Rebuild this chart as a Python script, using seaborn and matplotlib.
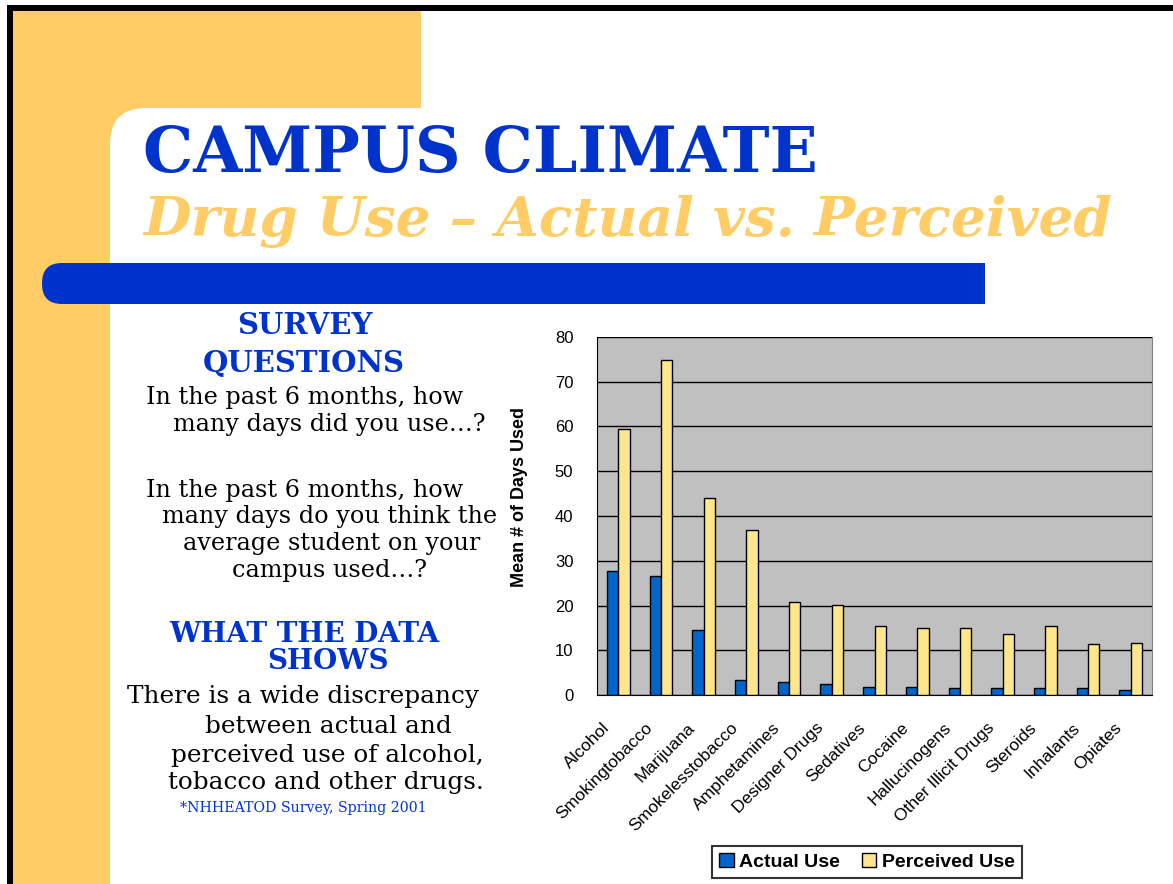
import pandas as pd
import matplotlib
matplotlib.use("Agg")
import matplotlib.pyplot as plt
import matplotlib.transforms as mtransforms
from matplotlib.patches import Rectangle, FancyBboxPatch, Patch
import seaborn as sns

# data
drugs = ["Alcohol", "Smokingtobacco", "Marijuana", "Smokelesstobacco",
         "Amphetamines", "Designer Drugs", "Sedatives", "Cocaine",
         "Hallucinogens", "Other Illicit Drugs", "Steroids", "Inhalants", "Opiates"]
actual_use = [27.8, 26.7, 14.5, 3.3, 3.0, 2.5, 1.8, 1.8, 1.5, 1.5, 1.5, 1.5, 1.1]
perceived_use = [59.5, 74.9, 44.1, 36.8, 20.7, 20.1, 15.4, 15.0, 15.0, 13.6, 15.4, 11.3, 11.7]
series_names = ["Actual Use", "Perceived Use"]
y_ticks = [0, 10, 20, 30, 40, 50, 60, 70, 80]

df = pd.DataFrame({
    "drug": drugs * 2,
    "days": actual_use + perceived_use,
    "type": [series_names[0]] * len(drugs) + [series_names[1]] * len(drugs),
})

sns.set_style("white")
plt.rcParams["font.family"] = ["Liberation Sans", "DejaVu Sans"]
plt.rcParams["text.color"] = "black"
plt.rcParams["axes.labelcolor"] = "black"
plt.rcParams["xtick.color"] = "black"
plt.rcParams["ytick.color"] = "black"

W, H = 1173, 884
fig = plt.figure(figsize=(W / 100, H / 100), dpi=100)
fig.patch.set_facecolor("white")
inch = fig.dpi_scale_trans

BLUE_DARK = "#0033CC"
ORANGE = "#FFCC66"
BAR_BLUE = "#0066CC"
BAR_YELLOW = "#FFE68C"


def box(x0, y0, x1, y1, color, rounding=None):
    # pixel coords, origin top-left
    if rounding is None:
        p = Rectangle((x0 / 100, (H - y1) / 100), (x1 - x0) / 100, (y1 - y0) / 100,
                      transform=inch, facecolor=color, edgecolor="none", zorder=-10)
    else:
        p = FancyBboxPatch((x0 / 100, (H - y1) / 100), (x1 - x0) / 100, (y1 - y0) / 100,
                           boxstyle=f"round,pad=0,rounding_size={rounding / 100}",
                           transform=inch, facecolor=color, edgecolor="none", zorder=-10)
    fig.patches.append(p)


# slide background
box(7, 5, W + 5, H + 5, "black")
box(13, 11, W + 5, H + 5, "white")
box(13, 11, 421, 108, ORANGE)
box(13, 108, 160, H + 5, ORANGE)
box(110, 108, W + 60, H + 60, "white", rounding=36)
box(42, 263, 130, 304, BLUE_DARK, rounding=20)
box(90, 263, 985, 304, BLUE_DARK)


def txt(x, y, s, size, color="black", weight="normal", style="normal", ha="left"):
    fig.text(x / W, 1 - y / H, s, fontsize=size, color=color, fontweight=weight,
             fontstyle=style, ha=ha, va="baseline", family="DejaVu Serif")


txt(143, 172, "CAMPUS CLIMATE", 45.5, BLUE_DARK, "bold")
txt(143, 236, "Drug Use \u2013 Actual vs. Perceived", 39.5, ORANGE, "bold", "italic")

txt(305, 334, "SURVEY", 21, BLUE_DARK, "bold", ha="center")
txt(304, 372, "QUESTIONS", 21, BLUE_DARK, "bold", ha="center")
txt(146, 404, "In the past 6 months, how", 17.2)
txt(173, 431, "many days did you use\u2026?", 17.2)
txt(146, 497, "In the past 6 months, how", 17.2)
txt(162, 523, "many days do you think the", 17.2)
txt(183, 550, "average student on your", 17.2)
txt(232, 577, "campus used\u2026?", 17.2)
txt(304, 642, "WHAT THE DATA", 20, BLUE_DARK, "bold", ha="center")
txt(328, 669, "SHOWS", 20, BLUE_DARK, "bold", ha="center")
txt(127, 703, "There is a wide discrepancy", 17.8)
txt(205, 733, "between actual and", 17.8)
txt(171, 762, "perceived use of alcohol,", 17.8)
txt(168, 789, "tobacco and other drugs.", 17.8)
txt(180, 812, "*NHHEATOD Survey, Spring 2001", 10.2, BLUE_DARK)

# chart
ax = fig.add_axes([597 / W, 1 - 695 / H, 555 / W, 358 / H])
ax.set_zorder(5)
ax.set_facecolor("#C0C0C0")
sns.barplot(data=df, x="drug", y="days", hue="type",
            palette=[BAR_BLUE, BAR_YELLOW], saturation=1, width=0.53, gap=0,
            edgecolor="black", linewidth=1, legend=False, ax=ax, zorder=3)

ax.set_ylim(0, 80)
ax.set_xlim(-0.5, len(drugs) - 0.5)
ax.set_yticks(y_ticks)
ax.set_yticklabels([str(v) for v in y_ticks], fontsize=12)
ax.yaxis.grid(True, color="black", linewidth=1, zorder=1)
ax.set_axisbelow(True)
ax.tick_params(axis="y", direction="out", length=5, width=1, color="black", pad=12)

ax.set_xticks(range(len(drugs)))
ax.set_xticklabels(drugs, rotation=45, ha="right", va="center",
                   rotation_mode="anchor", fontsize=12.5)
ax.set_xticks([i - 0.5 for i in range(len(drugs) + 1)], minor=True)
ax.tick_params(axis="x", which="major", length=0, pad=22)
ax.tick_params(axis="x", which="minor", direction="out", length=6, width=1, color="black")
shift = mtransforms.ScaledTranslation(-11 / 100, 0, fig.dpi_scale_trans)
for lab in ax.get_xticklabels():
    lab.set_transform(lab.get_transform() + shift)

ax.set_xlabel("")
ax.set_ylabel("Mean # of Days Used", fontsize=13, fontweight="bold")
ax.yaxis.set_label_coords(-0.124, 0.552)

ax.spines["top"].set_visible(False)
ax.spines["right"].set_color("#808080")
ax.spines["left"].set_color("black")
ax.spines["bottom"].set_color("black")

handles = [Patch(facecolor=BAR_BLUE, edgecolor="black", linewidth=1),
           Patch(facecolor=BAR_YELLOW, edgecolor="black", linewidth=1)]
leg = fig.legend(handles, series_names, loc="center", ncol=2,
                 bbox_to_anchor=(867 / W, 1 - 862 / H),
                 prop={"family": "Liberation Sans", "weight": "bold", "size": 14},
                 frameon=True, fancybox=False, edgecolor="black",
                 handlelength=0.75, handleheight=0.75, handletextpad=0.3,
                 columnspacing=1.1, borderpad=0.35)
leg.get_frame().set_linewidth(1.5)
leg.set_zorder(6)

fig.savefig("out.png", dpi=100)
